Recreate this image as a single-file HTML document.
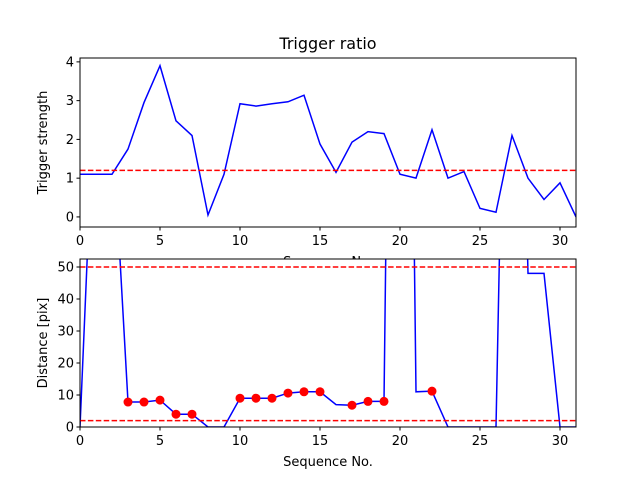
<!DOCTYPE html>
<html><head><meta charset="utf-8"><style>body{margin:0;background:#fff}svg{display:block;font-family:"DejaVu Sans","Liberation Sans",sans-serif}</style></head>
<body>
<svg id="c" width="640" height="480"></svg>
<script>
const seq=[0,1,2,3,4,5,6,7,8,9,10,11,12,13,14,15,16,17,18,19,20,21,22,23,24,25,26,27,28,29,30,31];
const trigger=[1.1,1.1,1.1,1.75,2.95,3.9,2.48,2.1,0.05,1.1,2.92,2.86,2.92,2.97,3.14,1.88,1.15,1.93,2.2,2.15,1.1,1.0,2.25,1.0,1.17,0.22,0.12,2.1,1.0,0.45,0.88,0.0];
const triggerThreshold=1.2;
const distance=[0,117,97,7.8,7.8,8.4,4,4,0,0,9,9,9,10.6,11,11,7,6.8,8,8,426,11,11.2,0,0,0,0,250,48,48,0,0];
const dotIdx=[3,4,5,6,7,10,11,12,13,14,15,17,18,19,22];
const distLines=[50,2];
const xTicks=[0,5,10,15,20,25,30];
const yTicksTop=[0,1,2,3,4];
const yTicksBot=[0,10,20,30,40,50];
const NS="http://www.w3.org/2000/svg",svg=document.getElementById('c');
function el(t,a,p){const e=document.createElementNS(NS,t);for(const k in a)e.setAttribute(k,a[k]);(p||svg).appendChild(e);return e;}
const L=80,R=576,FS=13;
const sx=v=>L+(v-0)/(31-0)*(R-L);
function axes(top,bot,ymin,ymax,yt,name,ylabel,clipId){
  const sy=v=>bot-(v-ymin)/(ymax-ymin)*(bot-top);
  const g=el('g',{});
  el('rect',{x:L,y:top,width:R-L,height:bot-top,fill:'#fff'},g);
  const cp=el('clipPath',{id:clipId},g);el('rect',{x:L,y:top,width:R-L,height:bot-top},cp);
  xTicks.forEach(t=>{el('line',{x1:sx(t),x2:sx(t),y1:bot,y2:bot+3.5,stroke:'#000'},g);
    const tx=el('text',{x:sx(t),y:bot+18,'font-size':FS,'text-anchor':'middle'},g);tx.textContent=t;
    });
  yt.forEach(t=>{el('line',{x1:L-3.5,x2:L,y1:sy(t),y2:sy(t),stroke:'#000'},g);
    const tx=el('text',{x:L-6,y:sy(t)+4.5,'font-size':FS,'text-anchor':'end'},g);tx.textContent=t;
    });
  const yl=el('text',{x:0,y:0,'font-size':FS,'text-anchor':'middle',transform:`translate(${L-33},${(top+bot)/2}) rotate(-90)`},g);yl.textContent=ylabel;
  
  const xl=el('text',{x:(L+R)/2,y:bot+39,'font-size':FS,'text-anchor':'middle'},g);xl.textContent='Sequence No.';
  
  const pg=el('g',{'clip-path':`url(#${clipId})`},g);
  return {sy,g,pg,top,bot};
}
const A=axes(58,227,-0.26,4.1,yTicksTop,'top-axes','Trigger strength','cp1');
let p=el('polyline',{points:seq.map((x,i)=>sx(x)+','+A.sy(trigger[i])).join(' '),fill:'none',stroke:'#0000ff','stroke-width':1.5},A.pg);

p=el('line',{x1:L,x2:R,y1:A.sy(triggerThreshold),y2:A.sy(triggerThreshold),stroke:'#ff0000','stroke-width':1.5,'stroke-dasharray':'5.5,2.4'},A.pg);

el('rect',{x:L,y:58,width:R-L,height:169,fill:'none',stroke:'#000','stroke-width':1},A.g);
const tt=el('text',{x:(L+R)/2,y:49,'font-size':16,'text-anchor':'middle'});tt.textContent='Trigger ratio';

const B=axes(259,427,0,52.5,yTicksBot,'bottom-axes','Distance [pix]','cp2');
p=el('polyline',{points:seq.map((x,i)=>sx(x)+','+B.sy(distance[i])).join(' '),fill:'none',stroke:'#0000ff','stroke-width':1.5},B.pg);

distLines.forEach(v=>{const l=el('line',{x1:L,x2:R,y1:B.sy(v),y2:B.sy(v),stroke:'#ff0000','stroke-width':1.5,'stroke-dasharray':'5.5,2.4'},B.pg);
  });
dotIdx.forEach(i=>{const c=el('circle',{cx:sx(seq[i]),cy:B.sy(distance[i]),r:4.5,fill:'#ff0000'},B.pg);
  });
el('rect',{x:L,y:259,width:R-L,height:168,fill:'none',stroke:'#000','stroke-width':1},B.g);
</script>
</body></html>
